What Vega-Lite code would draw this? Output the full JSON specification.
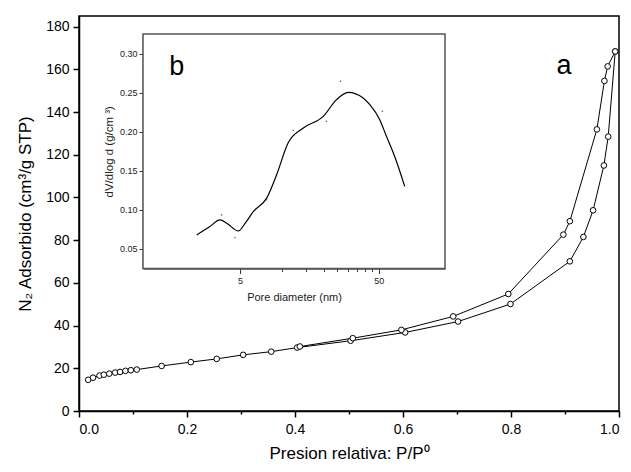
{
  "$schema": "https://vega.github.io/schema/vega-lite/v6.json",
  "width": 540,
  "height": 395,
  "autosize": {"type": "none"},
  "padding": {"left": 79, "top": 16, "right": 12, "bottom": 61},
  "background": "white",
  "config": {
    "font": "Liberation Sans",
    "view": {"stroke": "black", "strokeWidth": 1.5},
    "axis": {"grid": false, "labelFont": "Liberation Sans", "titleFont": "Liberation Sans", "titleFontWeight": "normal", "labelColor": "black", "titleColor": "black"}
  },
  "datasets": {
    "isotherm": [
      {"branch": "ads", "P": 0.017, "V": 14.6},
      {"branch": "ads", "P": 0.026, "V": 15.6},
      {"branch": "ads", "P": 0.038, "V": 16.6},
      {"branch": "ads", "P": 0.046, "V": 17.0},
      {"branch": "ads", "P": 0.056, "V": 17.5},
      {"branch": "ads", "P": 0.067, "V": 18.0},
      {"branch": "ads", "P": 0.076, "V": 18.3},
      {"branch": "ads", "P": 0.086, "V": 18.8},
      {"branch": "ads", "P": 0.096, "V": 19.1},
      {"branch": "ads", "P": 0.107, "V": 19.4},
      {"branch": "ads", "P": 0.153, "V": 21.1},
      {"branch": "ads", "P": 0.207, "V": 22.9},
      {"branch": "ads", "P": 0.255, "V": 24.4},
      {"branch": "ads", "P": 0.304, "V": 26.3},
      {"branch": "ads", "P": 0.356, "V": 27.8},
      {"branch": "ads", "P": 0.404, "V": 29.7},
      {"branch": "ads", "P": 0.503, "V": 32.9},
      {"branch": "ads", "P": 0.604, "V": 36.8},
      {"branch": "ads", "P": 0.702, "V": 41.9},
      {"branch": "ads", "P": 0.799, "V": 50.1},
      {"branch": "ads", "P": 0.909, "V": 70.1},
      {"branch": "ads", "P": 0.934, "V": 81.5},
      {"branch": "ads", "P": 0.952, "V": 94.0},
      {"branch": "ads", "P": 0.972, "V": 115.0},
      {"branch": "ads", "P": 0.980, "V": 128.5},
      {"branch": "ads", "P": 0.993, "V": 168.4},
      {"branch": "des", "P": 0.993, "V": 168.4},
      {"branch": "des", "P": 0.979, "V": 161.4},
      {"branch": "des", "P": 0.973, "V": 154.6},
      {"branch": "des", "P": 0.959, "V": 131.9},
      {"branch": "des", "P": 0.909, "V": 88.9},
      {"branch": "des", "P": 0.897, "V": 82.6},
      {"branch": "des", "P": 0.795, "V": 54.8},
      {"branch": "des", "P": 0.693, "V": 44.3},
      {"branch": "des", "P": 0.597, "V": 38.0},
      {"branch": "des", "P": 0.507, "V": 34.1},
      {"branch": "des", "P": 0.409, "V": 30.2}
    ],
    "psdCurve": [
      {"d": 2.44, "dv": 0.068},
      {"d": 3.0, "dv": 0.078},
      {"d": 3.59, "dv": 0.0872},
      {"d": 4.01, "dv": 0.083},
      {"d": 4.86, "dv": 0.073},
      {"d": 5.5, "dv": 0.084},
      {"d": 6.23, "dv": 0.0978},
      {"d": 7.78, "dv": 0.115},
      {"d": 9.18, "dv": 0.145},
      {"d": 11.1, "dv": 0.1855},
      {"d": 14.3, "dv": 0.2047},
      {"d": 19.9, "dv": 0.2196},
      {"d": 24.8, "dv": 0.241},
      {"d": 30.1, "dv": 0.2504},
      {"d": 38.6, "dv": 0.2432},
      {"d": 43.1, "dv": 0.2346},
      {"d": 50.8, "dv": 0.2154},
      {"d": 56.8, "dv": 0.194},
      {"d": 65.1, "dv": 0.1683},
      {"d": 76.9, "dv": 0.130}
    ],
    "psdPoints": [
      {"d": 3.68, "dv": 0.0936},
      {"d": 4.6, "dv": 0.0645},
      {"d": 7.78, "dv": 0.113},
      {"d": 12.1, "dv": 0.2017},
      {"d": 21.0, "dv": 0.2132},
      {"d": 26.5, "dv": 0.2646},
      {"d": 53.1, "dv": 0.226}
    ],
    "insetFrame": [
      {"dmin": 1, "dmax": 150, "vmin": 0.025, "vmax": 0.325}
    ],
    "labelA": [{"P": 0.898, "V": 157.7, "text": "a"}],
    "labelB": [{"d": 1.75, "dv": 0.273, "text": "b"}]
  },
  "layer": [
    {
      "layer": [
        {
          "data": {"name": "isotherm"},
          "mark": {"type": "line", "color": "black", "strokeWidth": 1},
          "encoding": {
            "x": {
              "field": "P", "type": "quantitative",
              "scale": {"domain": [0, 1], "nice": false},
              "axis": {
                "orient": "bottom",
                "title": "Presion relativa: P/P⁰",
                "values": [0, 0.1, 0.2, 0.3, 0.4, 0.5, 0.6, 0.7, 0.8, 0.9, 1.0],
                "labelExpr": "round(datum.value*10)%2==0 ? format(datum.value, '.1f') : ''",
                "tickSize": {"condition": {"test": "round(datum.value*10)%2==1", "value": 3}, "value": 6},
                "tickColor": "black", "tickWidth": 1.5,
                "domainColor": "black", "domainWidth": 1.5,
                "labelFontSize": 14, "labelPadding": 5,
                "titleFontSize": 17, "titlePadding": 9
              }
            },
            "y": {
              "field": "V", "type": "quantitative",
              "scale": {"domain": [0, 185], "nice": false, "zero": true},
              "axis": {
                "orient": "left",
                "title": "N₂ Adsorbido (cm³/g STP)",
                "values": [0, 10, 20, 30, 40, 50, 60, 70, 80, 90, 100, 110, 120, 130, 140, 150, 160, 170, 180],
                "labelExpr": "datum.value%20==0 ? format(datum.value, 'd') : ''",
                "tickSize": {"condition": {"test": "datum.value%20==10", "value": 3}, "value": 6},
                "tickColor": "black", "tickWidth": 1.5,
                "domainColor": "black", "domainWidth": 1.5,
                "labelFontSize": 14, "labelPadding": 4,
                "titleFontSize": 17, "titlePadding": 11
              }
            },
            "detail": {"field": "branch", "type": "nominal"}
          }
        },
        {
          "data": {"name": "isotherm"},
          "mark": {"type": "point", "shape": "circle", "filled": true, "fill": "white", "stroke": "black", "strokeWidth": 1, "size": 32, "opacity": 1},
          "encoding": {
            "x": {"field": "P", "type": "quantitative"},
            "y": {"field": "V", "type": "quantitative"}
          }
        },
        {
          "data": {"name": "labelA"},
          "mark": {"type": "text", "fontSize": 27, "font": "Liberation Sans", "align": "center", "baseline": "alphabetic", "color": "black"},
          "encoding": {
            "x": {"field": "P", "type": "quantitative"},
            "y": {"field": "V", "type": "quantitative"},
            "text": {"field": "text"}
          }
        }
      ]
    },
    {
      "layer": [
        {
          "data": {"name": "insetFrame"},
          "mark": {"type": "rect", "fill": "white", "stroke": "#555555", "strokeWidth": 1.5},
          "encoding": {
            "x": {
              "field": "dmin", "type": "quantitative",
              "scale": {"type": "log", "domain": [1, 150], "range": [64, 366], "nice": false},
              "axis": {
                "orient": "bottom", "offset": -142.5,
                "title": "Pore  diameter (nm)",
                "values": [5, 10, 15, 20, 25, 30, 35, 40, 45, 50],
                "labelExpr": "(datum.value==5 || datum.value==50) ? format(datum.value, 'd') : ''",
                "tickSize": {"condition": {"test": "datum.value==5 || datum.value==50", "value": 5}, "value": 3},
                "tickColor": "#333333", "tickWidth": 1,
                "domainColor": "#555555", "domainWidth": 1.5,
                "labelFontSize": 9, "labelPadding": 3, "labelColor": "#222222",
                "titleFontSize": 11, "titlePadding": 6, "titleColor": "#222222"
              }
            },
            "x2": {"field": "dmax"},
            "y": {
              "field": "vmin", "type": "quantitative",
              "scale": {"domain": [0.025, 0.325], "range": [252.5, 18], "nice": false, "zero": false},
              "axis": {
                "orient": "left", "offset": -64,
                "title": "dV/dlog d (g/cm ³)",
                "values": [0.05, 0.075, 0.1, 0.125, 0.15, 0.175, 0.2, 0.225, 0.25, 0.275, 0.3],
                "labelExpr": "round(datum.value*1000)%50==0 ? format(datum.value, '.2f') : ''",
                "tickSize": {"condition": {"test": "round(datum.value*1000)%50!=0", "value": 2}, "value": 4},
                "tickColor": "#333333", "tickWidth": 1,
                "domainColor": "#555555", "domainWidth": 1.5,
                "labelFontSize": 9, "labelPadding": 2, "labelColor": "#222222",
                "titleFontSize": 11.5, "titlePadding": 5, "titleColor": "#222222"
              }
            },
            "y2": {"field": "vmax"}
          }
        },
        {
          "data": {"name": "psdCurve"},
          "mark": {"type": "line", "color": "black", "strokeWidth": 1.2, "interpolate": "monotone"},
          "encoding": {
            "x": {"field": "d", "type": "quantitative"},
            "y": {"field": "dv", "type": "quantitative"}
          }
        },
        {
          "data": {"name": "psdPoints"},
          "mark": {"type": "square", "size": 2, "color": "#666666", "opacity": 1},
          "encoding": {
            "x": {"field": "d", "type": "quantitative"},
            "y": {"field": "dv", "type": "quantitative"}
          }
        },
        {
          "data": {"name": "labelB"},
          "mark": {"type": "text", "fontSize": 27, "font": "Liberation Sans", "align": "center", "baseline": "alphabetic", "color": "black"},
          "encoding": {
            "x": {"field": "d", "type": "quantitative"},
            "y": {"field": "dv", "type": "quantitative"},
            "text": {"field": "text"}
          }
        }
      ]
    }
  ],
  "resolve": {
    "scale": {"x": "independent", "y": "independent"},
    "axis": {"x": "independent", "y": "independent"}
  }
}
